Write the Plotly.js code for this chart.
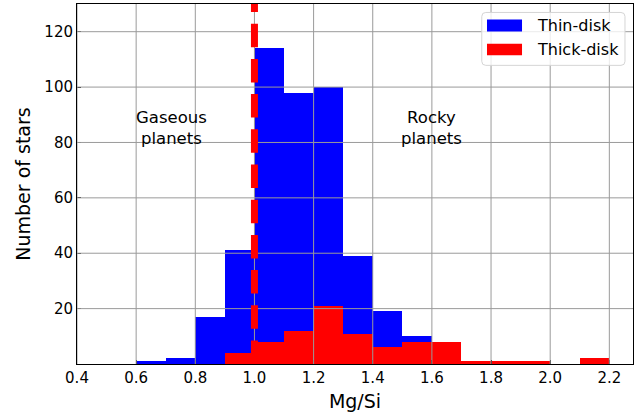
<!DOCTYPE html>
<html>
<head>
<meta charset="utf-8">
<script src="https://cdn.plot.ly/plotly-3.0.1.min.js"></script>
<style>
  html, body { margin: 0; padding: 0; background: #fff; }
  #chart { width: 642px; height: 418px; }
</style>
</head>
<body>
<div id="chart"></div>
<script>
// Mg/Si histogram bins (left edges) and star counts per population
const binLeft = [0.6, 0.7, 0.8, 0.9, 1.0, 1.1, 1.2, 1.3, 1.4, 1.5, 1.6, 1.7, 1.8, 1.9, 2.0, 2.1];
const binWidth = 0.1;
const thinDisk = [1, 2, 17, 41, 114, 98, 100, 39, 19, 10, 4, 0, 0, 0, 0, 0];
const thickDisk = [0, 0, 0, 4, 8, 12, 21, 11, 6, 8, 8, 1, 1, 1, 0, 2];

// Boundary between gaseous- and rocky-planet compositions
const splitRatio = 1.0;

// Axis ticks
const xTicks = [0.4, 0.6, 0.8, 1.0, 1.2, 1.4, 1.6, 1.8, 2.0, 2.2];
const yTicks = [20, 40, 60, 80, 100, 120];

const seriesNames = ['Thin-disk', 'Thick-disk'];
const regionLabels = [
  { x: 0.72, text: 'Gaseous<br>planets' },
  { x: 1.60, text: 'Rocky<br>planets' }
];

const FONT = 'DejaVu Sans, Liberation Sans, sans-serif';
const centers = binLeft.map(b => b + binWidth / 2);

const traces = [
  { type: 'bar', x: centers, y: thinDisk, width: binWidth, name: seriesNames[0],
    marker: { color: '#0000ff', line: { width: 0 } }, hoverinfo: 'x+y' },
  { type: 'bar', x: centers, y: thickDisk, width: binWidth, name: seriesNames[1],
    marker: { color: '#ff0000', line: { width: 0 } }, hoverinfo: 'x+y' }
];

const shapes = [];

// grid drawn on top of the bars
const gridColor = '#9a9a9a';
xTicks.forEach(v => shapes.push({
  type: 'line', xref: 'x', yref: 'paper', x0: v, x1: v, y0: 0, y1: 1,
  line: { color: gridColor, width: 1 }, layer: 'above'
}));
yTicks.forEach(v => shapes.push({
  type: 'line', xref: 'paper', yref: 'y', x0: 0, x1: 1, y0: v, y1: v,
  line: { color: gridColor, width: 1 }, layer: 'above'
}));

// dashed boundary line
shapes.push({
  type: 'line', xref: 'x', yref: 'y', x0: splitRatio, x1: splitRatio, y0: 0, y1: 130,
  line: { color: '#ff0000', width: 7, dash: '23.5px,11.7px' }, layer: 'above'
});

// legend box with rounded corners
function roundedRect(x0, y0, x1, y1, rx, ry) {
  return `M ${x0 + rx},${y0} L ${x1 - rx},${y0} Q ${x1},${y0} ${x1},${y0 + ry} ` +
         `L ${x1},${y1 - ry} Q ${x1},${y1} ${x1 - rx},${y1} L ${x0 + rx},${y1} ` +
         `Q ${x0},${y1} ${x0},${y1 - ry} L ${x0},${y0 + ry} Q ${x0},${y0} ${x0 + rx},${y0} Z`;
}
shapes.push({
  type: 'path', xref: 'paper', yref: 'paper',
  path: roundedRect(0.728, 0.8296, 0.9856, 0.9765, 4 / 556, 4 / 361),
  fillcolor: 'rgba(255,255,255,0.8)', line: { color: '#d5d5d5', width: 1 }, layer: 'above'
});
const legendRows = [
  { y0: 0.9238, y1: 0.9571, ty: 0.9404, color: '#0000ff', text: seriesNames[0] },
  { y0: 0.8573, y1: 0.8898, ty: 0.8726, color: '#ff0000', text: seriesNames[1] }
];
legendRows.forEach(r => shapes.push({
  type: 'rect', xref: 'paper', yref: 'paper', x0: 0.7374, x1: 0.8004, y0: r.y0, y1: r.y1,
  fillcolor: r.color, line: { width: 0 }, layer: 'above'
}));

const annotations = [];
legendRows.forEach(r => annotations.push({
  xref: 'paper', yref: 'paper', x: 0.8237, y: r.ty, xanchor: 'left', yanchor: 'middle',
  text: r.text, showarrow: false, font: { family: FONT, size: 16, color: '#000' }
}));
regionLabels.forEach(lbl => annotations.push({
  xref: 'x', yref: 'y', x: lbl.x, y: 85.4, xanchor: 'center', yanchor: 'middle',
  align: 'center', text: lbl.text, showarrow: false,
  font: { family: FONT, size: 16.5, color: '#000' }
}));

const layout = {
  width: 642, height: 418,
  margin: { l: 77, r: 9, t: 3.5, b: 53.5, pad: 0 },
  paper_bgcolor: '#fff', plot_bgcolor: '#fff',
  barmode: 'overlay', bargap: 0, showlegend: false,
  font: { family: FONT, size: 15, color: '#000' },
  xaxis: {
    range: [0.4, 2.28], tickvals: xTicks, ticktext: xTicks.map(v => v.toFixed(1)),
    showgrid: false, zeroline: false, showline: true, mirror: true,
    linecolor: '#000', linewidth: 1, ticks: 'inside', ticklen: 4, tickcolor: '#000',
    tickfont: { family: FONT, size: 15, color: '#000' },
    title: { text: 'Mg/Si', font: { family: FONT, size: 19, color: '#000' }, standoff: 8 }
  },
  yaxis: {
    range: [0, 130], tickvals: yTicks,
    showgrid: false, zeroline: false, showline: true, mirror: true,
    linecolor: '#000', linewidth: 1, ticks: 'inside', ticklen: 4, tickcolor: '#000',
    tickfont: { family: FONT, size: 15, color: '#000' },
    title: { text: 'Number of stars', font: { family: FONT, size: 19, color: '#000' }, standoff: 8 }
  },
  shapes: shapes,
  annotations: annotations
};

Plotly.newPlot('chart', traces, layout, { displayModeBar: false, staticPlot: true });
</script>
</body>
</html>
